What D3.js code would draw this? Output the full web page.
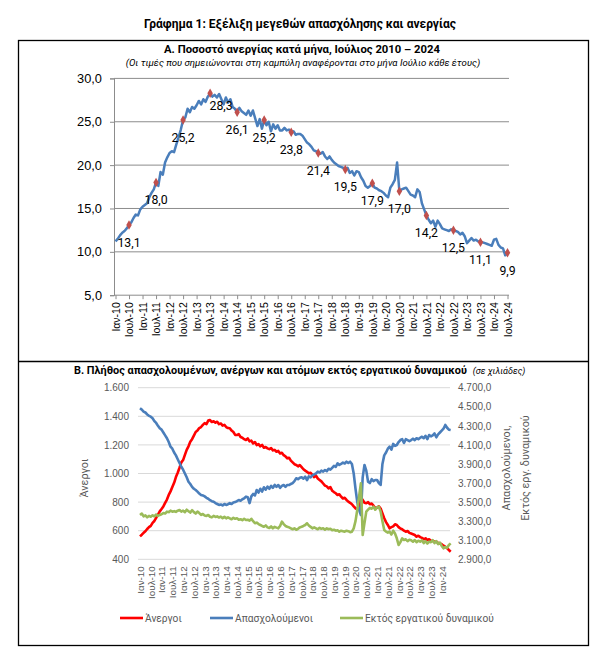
<!DOCTYPE html>
<html>
<head>
<meta charset="utf-8">
<script src="https://cdn.jsdelivr.net/npm/d3@7"></script>
<style>
  body { margin: 0; background: #fff; }
  svg { font-family: Roboto, "Noto Sans", sans-serif; }
</style>
</head>
<body>
<svg id="chart" width="600" height="657"></svg>
<script>
'use strict';

// ---- data: chart A, unemployment rate (%), monthly Jan 2010 - Jul 2024 ----
const rate2010 = [11.2, 11.5, 11.9, 12.2, 12.4, 12.7, 13.1, 13.4, 13.9, 14.3, 14.2, 14.9];
const rate2011 = [15.2, 15.4, 15.6, 16.3, 16.8, 17.2, 18.0, 17.6, 19.2, 18.9, 20.3, 20.9];
const rate2012 = [21.4, 21.6, 21.5, 22.4, 23.2, 24.1, 25.2, 25.5, 26.5, 26.1, 26.7, 26.5];
const rate2013 = [26.9, 27.4, 27.0, 27.6, 27.3, 27.9, 28.3, 27.9, 28.1, 27.8, 28.2, 27.6];
const rate2014 = [27.0, 27.8, 27.2, 27.6, 26.7, 26.5, 26.1, 26.6, 26.2, 26.0, 25.8, 26.3];
const rate2015 = [25.7, 26.3, 25.4, 24.5, 25.3, 24.2, 25.2, 24.6, 25.0, 23.9, 24.7, 24.2];
const rate2016 = [24.6, 24.0, 24.0, 24.3, 24.0, 24.1, 23.8, 23.9, 23.5, 23.6, 23.6, 23.4];
const rate2017 = [23.0, 22.6, 22.4, 22.1, 21.7, 21.6, 21.4, 21.3, 21.5, 21.0, 20.7, 21.0];
const rate2018 = [20.6, 20.3, 20.1, 19.9, 19.8, 19.7, 19.5, 19.7, 19.1, 19.3, 18.8, 19.3];
const rate2019 = [19.2, 18.6, 18.2, 17.6, 17.4, 17.6, 17.9, 17.4, 17.3, 17.1, 17.0, 16.8];
const rate2020 = [16.5, 16.3, 17.4, 17.8, 18.3, 20.3, 17.0, 17.2, 17.3, 17.4, 17.0, 16.6];
const rate2021 = [16.5, 16.3, 17.2, 16.9, 15.6, 14.9, 14.2, 13.7, 13.3, 13.6, 12.9, 13.6];
const rate2022 = [13.2, 12.7, 12.6, 12.5, 12.4, 12.6, 12.5, 12.4, 12.3, 12.0, 12.2, 11.8];
const rate2023 = [11.0, 11.3, 11.6, 11.3, 11.4, 11.2, 11.1, 11.1, 11.0, 10.9, 10.8, 10.7];
const rate2024 = [11.4, 11.5, 10.8, 10.5, 10.4, 9.6, 9.9];

// ---- data: chart B, thousands of persons, monthly Jan 2010 - Jun 2024 ----
const unemployed = [
  560, 572, 585, 596, 612, 625, 634, 655, 668, 690, 712, 735,
  752, 770, 795, 818, 850, 875, 905, 935, 975, 1005, 1040, 1078,
  1094, 1130, 1165, 1190, 1222, 1240, 1265, 1290, 1300, 1318, 1325, 1340,
  1352, 1345, 1370, 1374, 1360, 1365, 1355, 1362, 1345, 1350, 1335, 1340,
  1325, 1318, 1316, 1300, 1290, 1270, 1269, 1275, 1255, 1250, 1240, 1234,
  1245, 1225, 1230, 1210, 1220, 1199, 1205, 1190, 1200, 1180, 1185, 1176,
  1170, 1178, 1162, 1165, 1152, 1158, 1140, 1145, 1128, 1120, 1106, 1110,
  1090, 1078, 1065, 1060, 1050, 1059, 1045, 1030, 1020, 1012, 1001, 1005,
  990, 975, 985, 965, 955, 945, 930, 915, 910, 896, 905, 880,
  870, 862, 850, 855, 838, 825, 830, 815, 803, 795, 785, 770,
  757, 750, 765, 830, 815, 795, 792, 800, 785, 790, 775, 757,
  760, 770, 755, 720, 687, 660, 640, 617, 625, 630, 645, 640,
  625, 615, 610, 600, 593, 598, 585, 580, 575, 570, 558, 565,
  555, 550, 540, 547, 535, 540, 530, 528, 525, 523, 515, 510,
  505, 495, 488, 478, 465, 453
];
const employed = [
  4484, 4470, 4450, 4440, 4420, 4405, 4396, 4380, 4350, 4330, 4300, 4274,
  4260, 4230, 4200, 4170, 4130, 4081, 4060, 4020, 3990, 3950, 3910, 3871,
  3840, 3800, 3760, 3714, 3690, 3660, 3640, 3627, 3610, 3590, 3575, 3570,
  3560, 3545, 3535, 3520, 3510, 3504, 3490, 3480, 3470, 3475, 3465, 3480,
  3470, 3478, 3490, 3480, 3495, 3500, 3510, 3522, 3515, 3530, 3540, 3557,
  3550, 3490, 3560, 3585, 3570, 3627, 3600, 3640, 3610, 3655, 3630, 3662,
  3640, 3670, 3650, 3680, 3660, 3679, 3650, 3670, 3679, 3660, 3680, 3679,
  3690, 3700, 3720, 3750, 3740, 3755, 3760, 3745, 3767, 3730, 3770, 3760,
  3780, 3790, 3800, 3819, 3810, 3830, 3820, 3837, 3825, 3850, 3840, 3860,
  3880, 3870, 3907, 3890, 3900, 3915, 3905, 3924, 3910, 3924, 3900, 3800,
  3640, 3500, 3420, 3365, 3760, 3889, 3830, 3714, 3700, 3740, 3720, 3732,
  3732, 3700, 3680, 3900, 3990, 4020, 4060, 4081, 4050, 4110, 4090, 4099,
  4130, 4151, 4160, 4120, 4160, 4150, 4140, 4151, 4165, 4150, 4170, 4160,
  4175, 4186, 4170, 4195, 4160, 4204, 4190, 4200, 4220, 4180, 4210, 4230,
  4250, 4270, 4309, 4280, 4260, 4256
];
const outsideLF = [
  3365, 3380, 3350, 3360, 3340, 3355, 3347, 3362, 3350, 3370, 3355, 3365,
  3372, 3385, 3380, 3400, 3395, 3410, 3400, 3405, 3398, 3410, 3417, 3400,
  3410, 3395, 3420, 3405, 3390, 3415, 3395, 3380, 3400, 3385, 3365, 3375,
  3360, 3355, 3365, 3347, 3340, 3355, 3345, 3350, 3338, 3347, 3332, 3345,
  3330, 3340, 3330, 3320, 3335, 3325, 3330, 3315, 3320, 3310, 3325, 3312,
  3315, 3305, 3325, 3300, 3278, 3285, 3270, 3260, 3250, 3242, 3255, 3235,
  3228, 3245, 3225, 3240, 3232, 3225, 3250, 3295, 3270, 3250, 3242, 3235,
  3225, 3215, 3225, 3210, 3220, 3235, 3242, 3250, 3260, 3278, 3255, 3240,
  3225, 3235, 3225, 3215, 3230, 3220, 3225, 3210, 3225, 3215, 3220, 3205,
  3210, 3200, 3205, 3190, 3200, 3195, 3190, 3200, 3195, 3185, 3190, 3225,
  3300, 3420, 3560, 3697, 3155, 3280, 3400, 3420, 3440, 3430, 3452, 3420,
  3445, 3452, 3400, 3300, 3207, 3190, 3180, 3190, 3160, 3200, 3170, 3120,
  3050, 3080, 3120, 3102, 3110, 3090, 3105, 3100, 3085, 3102, 3080, 3095,
  3085, 3100, 3070, 3090, 3065, 3085, 3080, 3100, 3070, 3090, 3060, 3075,
  3040, 3015, 3030, 3020, 3050, 3067
];

// ---- tick labels ----
const tickLabelsA = ['Ιαν-10','Ιουλ-10','Ιαν-11','Ιουλ-11','Ιαν-12','Ιουλ-12','Ιαν-13','Ιουλ-13',
  'Ιαν-14','Ιουλ-14','Ιαν-15','Ιουλ-15','Ιαν-16','Ιουλ-16','Ιαν-17','Ιουλ-17','Ιαν-18','Ιουλ-18',
  'Ιαν-19','Ιουλ-19','Ιαν-20','Ιουλ-20','Ιαν-21','Ιουλ-21','Ιαν-22','Ιουλ-22','Ιαν-23','Ιουλ-23',
  'Ιαν-24','Ιουλ-24'];
const tickLabelsB = tickLabelsA.slice(0, 29);
const yTicksA = [5, 10, 15, 20, 25, 30];
const yTicksLeftB = [400, 600, 800, 1000, 1200, 1400, 1600];
const yTicksRightB = [2900, 3100, 3300, 3500, 3700, 3900, 4100, 4300, 4500, 4700];
const legendB = ['Άνεργοι', 'Απασχολούμενοι', 'Εκτός εργατικού δυναμικού'];

const rate = [].concat(rate2010, rate2011, rate2012, rate2013, rate2014, rate2015, rate2016,
  rate2017, rate2018, rate2019, rate2020, rate2021, rate2022, rate2023, rate2024);

const loc = d3.formatLocale({decimal: ',', thousands: '.', grouping: [3], currency: ['', '']});
const f1 = loc.format('.1f');
const fInt = loc.format(',.0f');
const fRight = loc.format(',.1f');

const svg = d3.select('#chart');
svg.append('rect').attr('width', 600).attr('height', 657).attr('fill', '#fff');

// main title + frame
svg.append('text').attr('x', 300).attr('y', 28).attr('text-anchor', 'middle')
  .attr('font-size', 12).attr('font-weight', 'bold').attr('fill', '#000')
  .text('Γράφημα 1: Εξέλιξη μεγεθών απασχόλησης και ανεργίας');
svg.append('rect').attr('x', 18.5).attr('y', 40.5).attr('width', 570).attr('height', 605)
  .attr('fill', 'none').attr('stroke', '#000').attr('stroke-width', 1.3);
svg.append('line').attr('x1', 18.5).attr('x2', 588.5).attr('y1', 361.5).attr('y2', 361.5)
  .attr('stroke', '#000').attr('stroke-width', 1.3);

// ********
// CHART A
// ********
const gA = svg.append('g');
gA.append('text').attr('x', 302).attr('y', 53).attr('text-anchor', 'middle')
  .attr('font-size', 11.3).attr('font-weight', 'bold')
  .text('Α. Ποσοστό ανεργίας κατά μήνα, Ιούλιος 2010 – 2024');
gA.append('text').attr('x', 303).attr('y', 66).attr('text-anchor', 'middle')
  .attr('font-size', 9.6).attr('font-style', 'italic')
  .text('(Οι τιμές που σημειώνονται στη καμπύλη αναφέρονται στο μήνα Ιούλιο κάθε έτους)');

const xA = d3.scaleLinear().domain([0, rate.length - 1]).range([115.5, 507.5]);
const yA = d3.scaleLinear().domain([5, 30]).range([295.2, 78.4]);

gA.selectAll('line.grid').data(yTicksA).join('line')
  .attr('x1', 114).attr('x2', 509)
  .attr('y1', d => yA(d)).attr('y2', d => yA(d))
  .attr('stroke', '#8c8c8c').attr('stroke-width', 1);

const axA = gA.append('g').attr('transform', 'translate(114,0)')
  .call(d3.axisLeft(yA).tickValues(yTicksA).tickSize(4).tickPadding(8).tickFormat(f1));
axA.select('.domain').attr('stroke', '#8c8c8c').attr('stroke-width', 1);
axA.selectAll('line').attr('stroke', '#8c8c8c');
axA.selectAll('text').attr('font-size', 12.8).attr('fill', '#000').style('font-family', 'inherit');

const tickIdxA = tickLabelsA.map((d, i) => i * 6);
const axXA = gA.append('g').attr('transform', `translate(0,${yA(5)})`)
  .call(d3.axisBottom(xA).tickValues(tickIdxA).tickSize(4).tickFormat((d, i) => tickLabelsA[i]));
axXA.select('.domain').remove();
axXA.selectAll('line').attr('stroke', '#8c8c8c');
axXA.selectAll('text').attr('font-size', 10.5).attr('fill', '#000').style('font-family', 'inherit')
  .attr('transform', 'rotate(-90)').attr('x', -7).attr('y', 0).attr('dy', '0.35em')
  .style('text-anchor', 'end');

gA.append('path').datum(rate)
  .attr('fill', 'none').attr('stroke', '#4a7ebb').attr('stroke-width', 2.5)
  .attr('stroke-linejoin', 'round')
  .attr('d', d3.line().x((d, i) => xA(i)).y(d => yA(d)));

const july = rate.map((v, i) => ({v, i})).filter(d => d.i % 12 === 6);
gA.selectAll('path.mk').data(july).join('path')
  .attr('transform', d => `translate(${xA(d.i)},${yA(d.v)})`)
  .attr('d', d3.symbol(d3.symbolDiamond, 26))
  .attr('fill', '#c0504d');
gA.selectAll('text.lbl').data(july).join('text')
  .attr('x', d => xA(d.i) + (d.v > 28 ? 11 : 0))
  .attr('y', d => yA(d.v) + (d.v > 28 ? 16.5 : 22))
  .attr('text-anchor', 'middle').attr('font-size', 12.3).attr('fill', '#000')
  .text(d => f1(d.v));

// ********
// CHART B
// ********
const gB = svg.append('g');
const titleB = gB.append('text').attr('x', 74).attr('y', 374).attr('font-size', 10.9).attr('font-weight', 'bold')
  .text('Β. Πλήθος απασχολουμένων, ανέργων και ατόμων εκτός εργατικού δυναμικού');
gB.append('text').attr('x', 74 + titleB.node().getComputedTextLength() + 6).attr('y', 374)
  .attr('font-size', 9).attr('font-style', 'italic')
  .text('(σε χιλιάδες)');

const xB = d3.scaleLinear().domain([0, 168]).range([140, 441.7]);
const yL = d3.scaleLinear().domain([400, 1600]).range([559.3, 387.7]);
const yR = d3.scaleLinear().domain([2900, 4700]).range([559.3, 387.7]);

gB.selectAll('line.grid').data(yTicksLeftB).join('line')
  .attr('x1', 138).attr('x2', 450)
  .attr('y1', d => yL(d)).attr('y2', d => yL(d))
  .attr('stroke', '#d9d9d9').attr('stroke-width', 1);

const axL = gB.append('g').attr('transform', 'translate(138,0)')
  .call(d3.axisLeft(yL).tickValues(yTicksLeftB).tickSize(0).tickPadding(9).tickFormat(fInt));
axL.select('.domain').remove();
axL.selectAll('text').attr('font-size', 10).attr('fill', '#595959').style('font-family', 'inherit');

const axR = gB.append('g').attr('transform', 'translate(450,0)')
  .call(d3.axisRight(yR).tickValues(yTicksRightB).tickSize(0).tickPadding(8).tickFormat(fRight));
axR.select('.domain').remove();
axR.selectAll('text').attr('font-size', 10).attr('fill', '#595959').style('font-family', 'inherit');

const tickIdxB = tickLabelsB.map((d, i) => i * 6);
const axXB = gB.append('g').attr('transform', `translate(0,${yL(400)})`)
  .call(d3.axisBottom(xB).tickValues(tickIdxB).tickSize(0).tickFormat((d, i) => tickLabelsB[i]));
axXB.select('.domain').remove();
axXB.selectAll('text').attr('font-size', 9.8).attr('fill', '#595959').style('font-family', 'inherit')
  .attr('transform', 'rotate(-90)').attr('x', -7).attr('y', 0).attr('dy', '0.35em')
  .style('text-anchor', 'end');

// axis titles
gB.append('text').attr('transform', 'translate(88,478) rotate(-90)').attr('text-anchor', 'middle')
  .attr('font-size', 10.8).attr('fill', '#595959').text('Άνεργοι');
gB.append('text').attr('transform', 'translate(510,468) rotate(-90)').attr('text-anchor', 'middle')
  .attr('font-size', 10.8).attr('fill', '#595959').text('Απασχολούμενοι,');
gB.append('text').attr('transform', 'translate(529,468) rotate(-90)').attr('text-anchor', 'middle')
  .attr('font-size', 10.8).attr('fill', '#595959').text('Εκτός εργ. δυναμικού');

const lineB = (scale) => d3.line().x((d, i) => xB(i)).y(d => scale(d));
const series = [
  {name: legendB[0], data: unemployed, scale: yL, color: '#ff0000'},
  {name: legendB[1], data: employed, scale: yR, color: '#4a7ebb'},
  {name: legendB[2], data: outsideLF, scale: yR, color: '#9bbb59'}
];
gB.selectAll('path.s').data(series).join('path')
  .attr('fill', 'none').attr('stroke', d => d.color).attr('stroke-width', 2.6)
  .attr('stroke-linejoin', 'round')
  .attr('d', d => lineB(d.scale)(d.data));

// legend
const legX = [120, 210, 340];
const leg = gB.selectAll('g.leg').data(series).join('g')
  .attr('transform', (d, i) => `translate(${legX[i]},618)`);
leg.append('line').attr('x1', 0).attr('x2', 23).attr('stroke', d => d.color).attr('stroke-width', 2.6);
leg.append('text').attr('x', 25).attr('y', 3.6).attr('font-size', 10.2).attr('fill', '#595959')
  .text(d => d.name);
</script>
</body>
</html>
